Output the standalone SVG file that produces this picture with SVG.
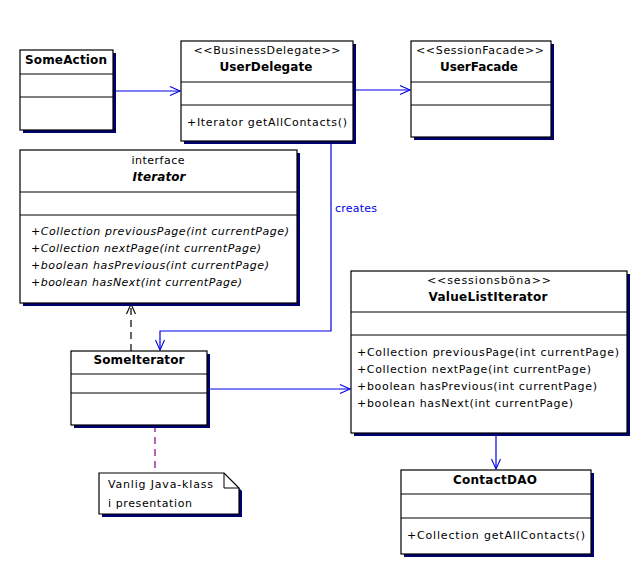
<svg xmlns="http://www.w3.org/2000/svg" width="641" height="568" viewBox="0 0 641 568">
<defs>
<style>
.box{fill:#fff;stroke:#000;stroke-width:1.2}
.sh{fill:#000070}
.dv{stroke:#000;stroke-width:1}
text{font-family:"DejaVu Sans","Liberation Sans",sans-serif;font-size:11px;fill:#000}
.nm{font-weight:bold;font-size:12px;text-anchor:middle}
.st{text-anchor:middle}
.it{font-style:italic}
.con{fill:none;stroke:#0000e6;stroke-width:1.2}
.lbl{fill:#0000e6}
</style>
<marker id="open" viewBox="-12 -6 14 12" markerWidth="14" markerHeight="12" refX="0" refY="0" orient="auto" markerUnits="userSpaceOnUse">
<path d="M-10,-4.5 L0,0 L-10,4.5" fill="none" stroke="#0000e6" stroke-width="1.1"/>
</marker>
<marker id="openk" viewBox="-12 -6 14 12" markerWidth="14" markerHeight="12" refX="0" refY="0" orient="auto" markerUnits="userSpaceOnUse">
<path d="M-10,-4.5 L0,0 L-10,4.5" fill="none" stroke="#000" stroke-width="1.1"/>
</marker>
</defs>
<rect width="641" height="568" fill="#fff"/>

<g id="connectors">
<line class="con" x1="113" y1="91" x2="180" y2="91" marker-end="url(#open)"/>
<line class="con" x1="353" y1="90" x2="410" y2="90" marker-end="url(#open)"/>
<polyline class="con" points="331,141 331,331 160,331 160,350" marker-end="url(#open)"/>
<text class="lbl" x="335" y="212" textLength="42">creates</text>
<line x1="131" y1="351" x2="131" y2="304" stroke="#000" stroke-width="1.2" stroke-dasharray="7,5" marker-end="url(#openk)"/>
<line class="con" x1="207" y1="389" x2="350" y2="389" marker-end="url(#open)"/>
<line class="con" x1="496" y1="433" x2="496" y2="469" marker-end="url(#open)"/>
<line x1="155" y1="425" x2="155" y2="473" stroke="#800080" stroke-width="1.2" stroke-dasharray="7,5"/>
</g>

<g id="SomeAction">
<rect class="sh" x="23" y="53" width="93" height="80"/>
<rect class="box" x="20" y="50" width="93" height="80"/>
<line class="dv" x1="20" y1="74" x2="113" y2="74"/>
<line class="dv" x1="20" y1="97" x2="113" y2="97"/>
<text class="nm" x="66" y="64" textLength="82">SomeAction</text>
</g>

<g id="UserDelegate">
<rect class="sh" x="184" y="44" width="172" height="100"/>
<rect class="box" x="181" y="41" width="172" height="100"/>
<line class="dv" x1="181" y1="82" x2="353" y2="82"/>
<line class="dv" x1="181" y1="105" x2="353" y2="105"/>
<text class="st" x="267" y="54" textLength="147">&lt;&lt;BusinessDelegate&gt;&gt;</text>
<text class="nm" x="266" y="71" textLength="93">UserDelegate</text>
<text x="187" y="126" textLength="160">+Iterator getAllContacts()</text>
</g>

<g id="UserFacade">
<rect class="sh" x="414" y="44" width="140" height="96"/>
<rect class="box" x="411" y="41" width="140" height="96"/>
<line class="dv" x1="411" y1="82" x2="551" y2="82"/>
<line class="dv" x1="411" y1="105" x2="551" y2="105"/>
<text class="st" x="480" y="54" textLength="128">&lt;&lt;SessionFacade&gt;&gt;</text>
<text class="nm" x="479" y="71" textLength="78">UserFacade</text>
</g>

<g id="Iterator">
<rect class="sh" x="23" y="153" width="277" height="153"/>
<rect class="box" x="20" y="150" width="277" height="153"/>
<line class="dv" x1="20" y1="192" x2="297" y2="192"/>
<line class="dv" x1="20" y1="215" x2="297" y2="215"/>
<text class="st" x="158" y="164" textLength="53">interface</text>
<text class="nm it" x="159" y="181" textLength="53">Iterator</text>
<text class="it" x="31" y="235" textLength="258">+Collection previousPage(int currentPage)</text>
<text class="it" x="31" y="252" textLength="230">+Collection nextPage(int currentPage)</text>
<text class="it" x="31" y="269" textLength="238">+boolean hasPrevious(int currentPage)</text>
<text class="it" x="31" y="286" textLength="211">+boolean hasNext(int currentPage)</text>
</g>

<g id="SomeIterator">
<rect class="sh" x="74" y="354" width="136" height="74"/>
<rect class="box" x="71" y="351" width="136" height="74"/>
<line class="dv" x1="71" y1="374" x2="207" y2="374"/>
<line class="dv" x1="71" y1="393" x2="207" y2="393"/>
<text class="nm" x="139" y="364" textLength="91">SomeIterator</text>
</g>

<g id="Note">
<path class="sh" d="M102,476 H227 L242,491 V517 H102 Z"/>
<path class="box" d="M99,473 H224 L239,488 V514 H99 Z"/>
<path d="M224,473 V488 H239" fill="none" stroke="#000" stroke-width="1"/>
<text x="108" y="488" textLength="105">Vanlig Java-klass</text>
<text x="108" y="507" textLength="84">i presentation</text>
</g>

<g id="ValueListIterator">
<rect class="sh" x="354" y="274" width="276" height="162"/>
<rect class="box" x="351" y="271" width="276" height="162"/>
<line class="dv" x1="351" y1="312" x2="627" y2="312"/>
<line class="dv" x1="351" y1="335" x2="627" y2="335"/>
<text class="st" x="489" y="284" textLength="124">&lt;&lt;sessionsböna&gt;&gt;</text>
<text class="nm" x="488" y="301" textLength="119">ValueListIterator</text>
<text x="357" y="356" textLength="262">+Collection previousPage(int currentPage)</text>
<text x="357" y="373" textLength="234">+Collection nextPage(int currentPage)</text>
<text x="357" y="390" textLength="240">+boolean hasPrevious(int currentPage)</text>
<text x="357" y="407" textLength="216">+boolean hasNext(int currentPage)</text>
</g>

<g id="ContactDAO">
<rect class="sh" x="404" y="473" width="190" height="84"/>
<rect class="box" x="401" y="470" width="190" height="84"/>
<line class="dv" x1="401" y1="494" x2="591" y2="494"/>
<line class="dv" x1="401" y1="518" x2="591" y2="518"/>
<text class="nm" x="495" y="484" textLength="84">ContactDAO</text>
<text x="407" y="539" textLength="178">+Collection getAllContacts()</text>
</g>
</svg>
